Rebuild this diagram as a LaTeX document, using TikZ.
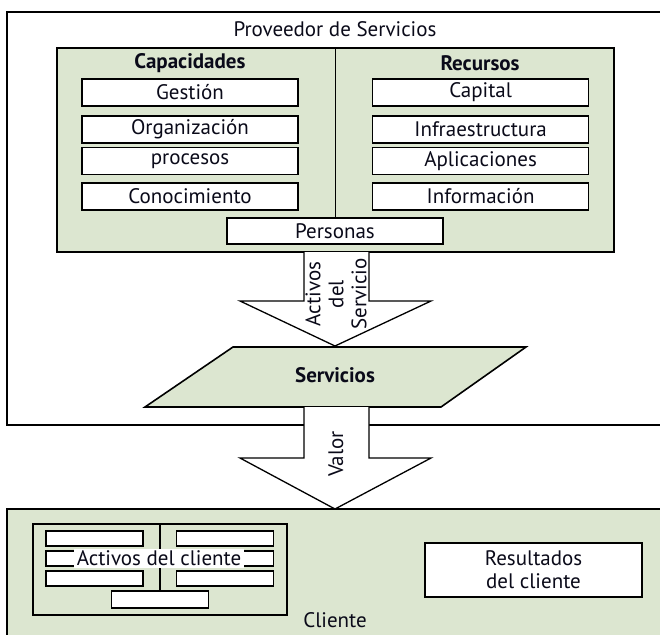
\documentclass[tikz,border=0pt]{standalone}
\usepackage{fontspec}
\setmainfont{PT Sans}
\usetikzlibrary{positioning}
\definecolor{svgreen}{RGB}{220,230,208}
\definecolor{svtext}{RGB}{10,10,25}

\begin{document}
\begin{tikzpicture}[x=1pt, y=-1pt,
    every node/.style={font=\fontsize{21}{23}\selectfont, text=svtext, inner sep=0pt},
    frame/.style={draw, line width=1.8pt},
    panel/.style={draw, line width=1.6pt, fill=svgreen},
    item/.style={draw, line width=1.6pt, fill=white,
        minimum width=216pt, minimum height=27pt},
    minibox/.style={draw, line width=1.4pt, fill=white,
        minimum width=97pt, minimum height=15pt},
    bigarrow/.style={draw, line width=1.3pt, fill=white, line join=miter},
    heading/.style={font=\fontsize{21}{23}\selectfont\bfseries} ]
    \useasboundingbox (0,0) rectangle (660,634);

    % proveedor de servicios
    \node (proveedor) [frame, minimum width=663pt, minimum height=413pt] at (338.5,218.5) {};
    \node (provlabel) at (335,29) {Proveedor de Servicios};
    \node (capbox) [panel, minimum width=557pt, minimum height=204pt] at (335.5,150) {};
    \node (capacidades) [heading] at (190,63) {Capacidades};
    \node (recursos) [heading] at (480,63) {Recursos};

    \node (gestion) [item] at (190,92.5) {Gesti\'on};
    \node (organizacion) [item] at (190,129.5) {Organizaci\'on};
    \node (procesos) [item] at (190,161) {procesos};
    \node (conocimiento) [item] at (190,196.5) {Conocimiento};
    \node (capital) [item, right=73pt of gestion] {Capital};
    \node (infra) [item, right=73pt of organizacion] {Infraestructura};
    \node (aplicaciones) [item, right=73pt of procesos] {Aplicaciones};
    \node (informacion) [item, right=73pt of conocimiento] {Informaci\'on};
    \node (personas) [item, minimum height=26pt] at (335,231) {Personas};
    \draw [line width=1.6pt] (capbox.north) -- (capbox.north |- personas.north);

    % servicios
    \draw [panel] (233,347) -- (526,347) -- (441,407) -- (145,407) -- cycle;
    \node (servicios) [heading] at (335,375) {Servicios};

    % cliente
    \node (cliente) [panel, minimum width=663pt, minimum height=141pt] at (338.5,579.5) {};
    \node (clientlabel) at (335,620) {Cliente};
    \node (activos) [draw, line width=1.6pt, minimum width=254pt, minimum height=91pt] at (160,569.5) {};
    \node (a1) [minibox] at (94.5,538.5) {};
    \node (a2) [minibox] at (94.5,558.5) {};
    \node (a3) [minibox] at (94.5,578.5) {};
    \node (b1) [minibox] at (225,538.5) {};
    \node (b2) [minibox] at (225,558.5) {};
    \node (b3) [minibox] at (225,578.5) {};
    \node (a4) [minibox, minimum height=17pt] at (160,599.5) {};
    \draw [line width=1.6pt] (activos.north -| a4.north) -- (a4.north);
    \node (activoslabel) [fill=white, inner xsep=3pt, inner ysep=0pt,
        minimum height=19pt] at (159,558.5) {Activos del cliente};
    \node (resultados) [draw, line width=1.6pt, fill=white, align=center,
        minimum width=217pt, minimum height=54pt] at (533.5,570) {Resultados\\del cliente};

    % flechas
    \filldraw [bigarrow] (304,252) -- (304,301) -- (240,301) -- (335,346)
        -- (431,301) -- (369,301) -- (369,252);
    \node (activosserv) [rotate=90, align=center] at (336,294) {Activos\\del\\Servicio};
    \filldraw [bigarrow] (304,407) -- (304,458) -- (240,458) -- (335,509)
        -- (431,458) -- (369,458) -- (369,407);
    \node (valor) [rotate=90] at (336,454) {Valor};
\end{tikzpicture}
\end{document}
